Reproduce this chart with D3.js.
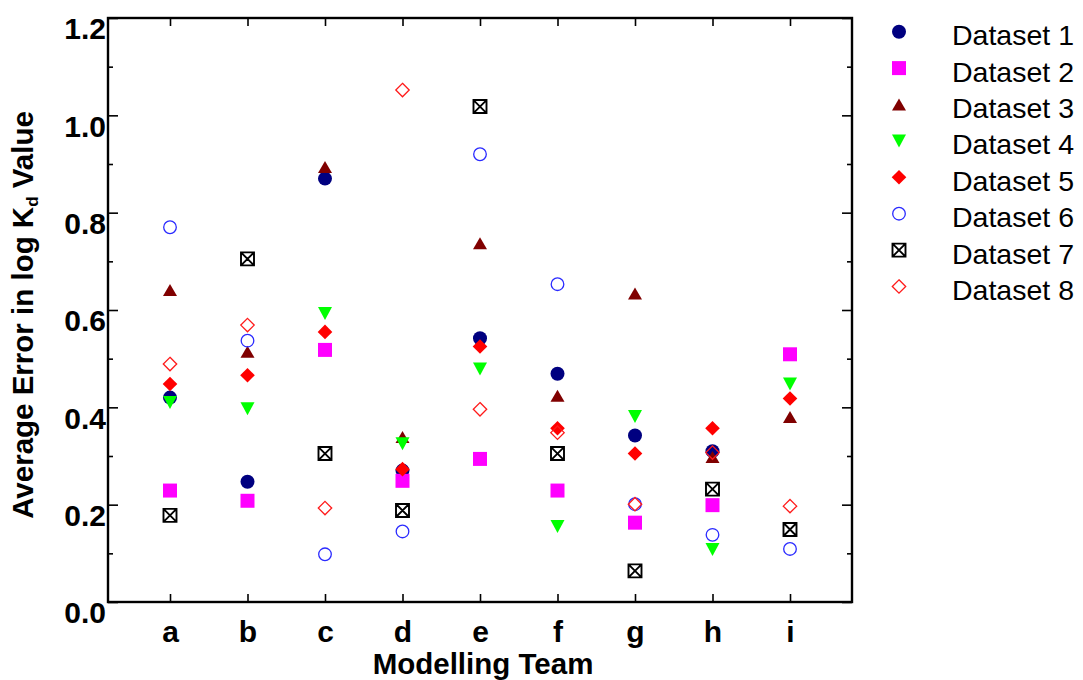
<!DOCTYPE html>
<html><head><meta charset="utf-8">
<script src="https://cdn.jsdelivr.net/npm/d3@7"></script>
<style>
body{margin:0;background:#fff;}
svg{display:block;font-family:"Liberation Sans",Arial,Helvetica,sans-serif;}
</style>
</head><body>
<svg id="chart" width="1083" height="680"></svg>
<script>
// ---- data ----
const teams = ["a","b","c","d","e","f","g","h","i"];
const seriesNames = ["Dataset 1","Dataset 2","Dataset 3","Dataset 4","Dataset 5","Dataset 6","Dataset 7","Dataset 8"];
const dataset1 = [0.420,0.247,0.870,0.270,0.542,0.469,0.342,0.310,null];
const dataset2 = [0.229,0.208,0.518,0.249,0.294,0.229,0.163,0.199,0.509];
const dataset3 = [0.641,0.514,0.894,0.339,0.737,0.424,0.634,0.298,0.380];
const dataset4 = [0.410,0.397,0.593,0.325,0.479,0.155,0.381,0.108,0.448];
const dataset5 = [0.448,0.466,0.555,0.273,0.525,0.357,0.305,0.357,0.418];
const dataset6 = [0.770,0.537,0.098,0.145,0.920,0.653,0.201,0.138,0.109];
const dataset7 = [0.178,0.705,0.305,0.188,1.018,0.305,0.064,0.232,0.149];
const dataset8 = [0.489,0.569,0.193,1.052,0.396,0.348,0.201,0.307,0.197];
const yTickValues = [0,0.2,0.4,0.6,0.8,1.0,1.2];
const yMinorValues = [0.1,0.3,0.5,0.7,0.9,1.1];
const yTitle = ["Average Error in log K","d"," Value"];
const xTitle = "Modelling Team";

const allSeries = [dataset1,dataset2,dataset3,dataset4,dataset5,dataset6,dataset7,dataset8];

// ---- styles ----
const styles = [
  {shape:"circle",   fill:"#000080", stroke:"none"},
  {shape:"square",   fill:"#ff00ff", stroke:"none"},
  {shape:"triUp",    fill:"#800000", stroke:"none"},
  {shape:"triDown",  fill:"#00ff00", stroke:"none"},
  {shape:"diamond",  fill:"#ff0000", stroke:"none"},
  {shape:"circleO",  fill:"none",    stroke:"#2a2aff"},
  {shape:"xsquare",  fill:"none",    stroke:"#000000"},
  {shape:"diamondO", fill:"none",    stroke:"#ff1a1a"}
];

function shapePath(shape){
  switch(shape){
    case "circle": return "M7,0A7,7 0 1,1 -7,0A7,7 0 1,1 7,0Z";
    case "circleO": return "M6.3,0A6.3,6.3 0 1,1 -6.3,0A6.3,6.3 0 1,1 6.3,0Z";
    case "square": return "M-7,-7H7V7H-7Z";
    case "triUp": return "M0,-6L7,6H-7Z";
    case "triDown": return "M-7,-6.5H7L0,6.5Z";
    case "diamond": return "M0,-7.3L7.3,0L0,7.3L-7.3,0Z";
    case "diamondO": return "M0,-6.7L6.7,0L0,6.7L-6.7,0Z";
    case "xsquare": return "M-6.5,-6.5H6.5V6.5H-6.5ZM-6.5,-6.5L6.5,6.5M6.5,-6.5L-6.5,6.5";
  }
}
function strokeW(shape){ return shape==="xsquare"?1.9:1.3; }

const svg = d3.select("#chart");
const L=108, R=852, T=18, B=602;

const x = d3.scalePoint().domain(teams).range([L,R]).padding(0.8);
const y = d3.scaleLinear().domain([0,1.2]).range([B,T]);

// axes
const axisStyle = g => { g.select(".domain").remove(); g.selectAll(".tick line").attr("stroke","#000").attr("stroke-width",1.6); };

svg.append("g").attr("transform",`translate(${L},0)`)
  .call(d3.axisLeft(y).tickValues(yTickValues).tickSize(-10).tickPadding(2).tickFormat(d3.format(".1f")))
  .call(axisStyle)
  .call(g=>g.selectAll("text").attr("dy",null).attr("y",20.8)
     .attr("font-size","30px").attr("font-weight","bold").attr("fill","#000")
     .attr("font-family","'Liberation Sans',Arial,sans-serif"));
svg.append("g").attr("transform",`translate(${L},0)`)
  .call(d3.axisLeft(y).tickValues(yMinorValues).tickSize(-5).tickFormat(""))
  .call(axisStyle);
svg.append("g").attr("transform",`translate(${R},0)`)
  .call(d3.axisLeft(y).tickValues(yTickValues).tickSize(10).tickFormat(""))
  .call(axisStyle);
svg.append("g").attr("transform",`translate(${R},0)`)
  .call(d3.axisLeft(y).tickValues(yMinorValues).tickSize(5).tickFormat(""))
  .call(axisStyle);
svg.append("g").attr("transform",`translate(0,${B})`)
  .call(d3.axisBottom(x).tickSize(-8).tickPadding(0))
  .call(axisStyle)
  .call(g=>g.selectAll("text").attr("dy",null).attr("y",39.7)
     .attr("font-size","30px").attr("font-weight","bold").attr("fill","#000")
     .attr("font-family","'Liberation Sans',Arial,sans-serif"));
svg.append("g").attr("transform",`translate(0,${T})`)
  .call(d3.axisTop(x).tickSize(-8).tickFormat(""))
  .call(axisStyle);

svg.append("rect").attr("x",L).attr("y",T).attr("width",R-L).attr("height",B-T)
  .attr("fill","none").attr("stroke","#000").attr("stroke-width",2.4);

// titles
const yt = svg.append("text")
  .attr("transform","translate(33,315) rotate(-90)")
  .attr("text-anchor","middle").attr("font-size","29.5px").attr("font-weight","bold").attr("fill","#000");
yt.append("tspan").text(yTitle[0]);
yt.append("tspan").attr("font-size","17px").attr("dy","5").text(yTitle[1]);
yt.append("tspan").attr("dy","-5").text(yTitle[2]);

svg.append("text").attr("x",483).attr("y",674).attr("text-anchor","middle")
  .attr("font-size","29.5px").attr("font-weight","bold").attr("fill","#000").text(xTitle);

// points
allSeries.forEach((vals,si)=>{
  const st = styles[si];
  const pts = teams.map((t,i)=>({t, v:vals[i]})).filter(d=>d.v!=null);
  svg.append("g").selectAll("path").data(pts).join("path")
    .attr("transform",d=>`translate(${x(d.t)},${y(d.v)})`)
    .attr("d",shapePath(st.shape))
    .attr("fill",st.fill).attr("stroke",st.stroke)
    .attr("stroke-width",strokeW(st.shape));
});

// legend
const lg = svg.append("g");
seriesNames.forEach((name,i)=>{
  const st = styles[i];
  const yy = 31.7 + i*36.4;
  lg.append("path").attr("transform",`translate(899,${yy})`).attr("d",shapePath(st.shape))
    .attr("fill",st.fill).attr("stroke",st.stroke).attr("stroke-width",strokeW(st.shape));
  lg.append("text").attr("x",952).attr("y",yy+13.5).attr("font-size","28.5px").attr("fill","#000").text(name);
});
</script>
</body></html>
